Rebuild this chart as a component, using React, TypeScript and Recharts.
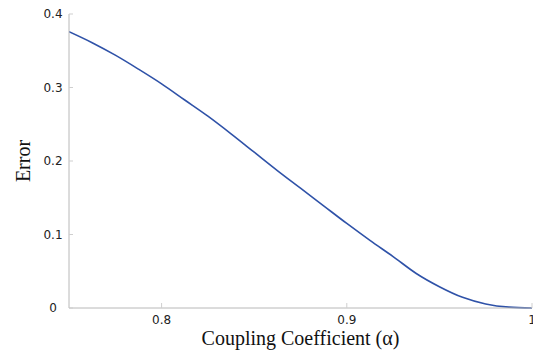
import React from "react";
import { LineChart, Line, XAxis, YAxis } from "recharts";

const alpha = [
  0.75, 0.7625, 0.775, 0.7875, 0.8, 0.8125, 0.825, 0.8375, 0.85, 0.8625, 0.875,
  0.8875, 0.9, 0.9125, 0.925, 0.9375, 0.95, 0.9625, 0.975, 0.9875, 1.0,
];
const error = [
  0.376, 0.361, 0.344, 0.325, 0.305, 0.283, 0.261, 0.237, 0.212, 0.187, 0.163,
  0.139, 0.115, 0.092, 0.07, 0.047, 0.029, 0.0145, 0.0055, 0.0012, 0.0,
];
const xTicks = [0.8, 0.9, 1];
const yTicks = [0, 0.1, 0.2, 0.3, 0.4];

const data = alpha.map((a, i) => ({ alpha: a, error: error[i] }));

const tickFont = "'DejaVu Sans', Verdana, sans-serif";
const titleFont = "'Liberation Serif', 'Times New Roman', serif";
const frame = "#b8b8b8";
const tickColor = "#cfcfcf";

const BottomTick = (props: any) => {
  const { x, y, payload } = props;
  const axisY = y - 7;
  return (
    <g>
      <line x1={x} x2={x} y1={axisY} y2={axisY - 5} stroke={tickColor} />
      <text x={x} y={y} dy="0.71em" textAnchor="middle" fontSize={12} fill="#222" fontFamily={tickFont}>
        {payload.value}
      </text>
    </g>
  );
};

const TopTick = (props: any) => {
  const { x, y } = props;
  return <line x1={x} x2={x} y1={y} y2={y + 5} stroke={tickColor} />;
};

const LeftTick = (props: any) => {
  const { x, y, payload } = props;
  const axisX = x + 16;
  return (
    <g>
      <line x1={axisX} x2={axisX + 4} y1={y} y2={y} stroke={tickColor} />
      <text x={x} y={y} dy="0.355em" textAnchor="middle" fontSize={12} fill="#222" fontFamily={tickFont}>
        {payload.value}
      </text>
    </g>
  );
};

const RightTick = (props: any) => {
  const { x, y } = props;
  return <line x1={x} x2={x - 4} y1={y} y2={y} stroke={tickColor} />;
};

const YTitle = (props: any) => {
  const { viewBox } = props;
  const cx = viewBox.x + 23;
  const cy = viewBox.y + viewBox.height / 2;
  return (
    <text
      x={cx}
      y={cy}
      transform={`rotate(-90 ${cx} ${cy})`}
      textAnchor="middle"
      dominantBaseline="central"
      fontSize={20}
      fill="#111"
      fontFamily={titleFont}
    >
      Error
    </text>
  );
};

const XTitle = (props: any) => {
  const { viewBox } = props;
  const cx = viewBox.x + viewBox.width / 2;
  return (
    <text x={cx} y={345} textAnchor="middle" fontSize={20} fill="#111" fontFamily={titleFont}>
      Coupling Coefficient (α)
    </text>
  );
};

export default function App() {
  return (
    <div style={{ position: "absolute", left: 0, top: 0, background: "#fff" }}>
      <LineChart width={533} height={356} data={data} margin={{ top: 14, right: 1, bottom: 0, left: 0 }}>
        <XAxis
          xAxisId="bottom"
          dataKey="alpha"
          type="number"
          domain={[0.75, 1]}
          ticks={xTicks}
          allowDataOverflow
          height={48}
          tickSize={0}
          tickMargin={7}
          tickLine={false}
          axisLine={{ stroke: frame }}
          tick={<BottomTick />}
          interval={0}
          label={<XTitle />}
        />
        <XAxis
          xAxisId="top"
          orientation="top"
          dataKey="alpha"
          type="number"
          domain={[0.75, 1]}
          ticks={xTicks}
          allowDataOverflow
          height={0}
          tickSize={0}
          tickMargin={0}
          tickLine={false}
          axisLine={{ stroke: "#d4d4d4" }}
          tick={<TopTick />}
          interval={0}
        />
        <YAxis
          yAxisId="left"
          type="number"
          domain={[0, 0.4]}
          ticks={yTicks}
          width={69}
          tickSize={0}
          tickMargin={16}
          tickLine={false}
          axisLine={{ stroke: frame }}
          tick={<LeftTick />}
          interval={0}
          label={<YTitle />}
        />
        <YAxis
          yAxisId="right"
          orientation="right"
          type="number"
          domain={[0, 0.4]}
          ticks={yTicks}
          width={0}
          tickSize={0}
          tickMargin={0}
          tickLine={false}
          axisLine={{ stroke: frame }}
          tick={<RightTick />}
          interval={0}
        />
        <Line
          xAxisId="bottom"
          yAxisId="left"
          dataKey="error"
          type="monotone"
          stroke="#2f52a8"
          strokeWidth={1.6}
          dot={false}
          isAnimationActive={false}
        />
      </LineChart>
    </div>
  );
}
